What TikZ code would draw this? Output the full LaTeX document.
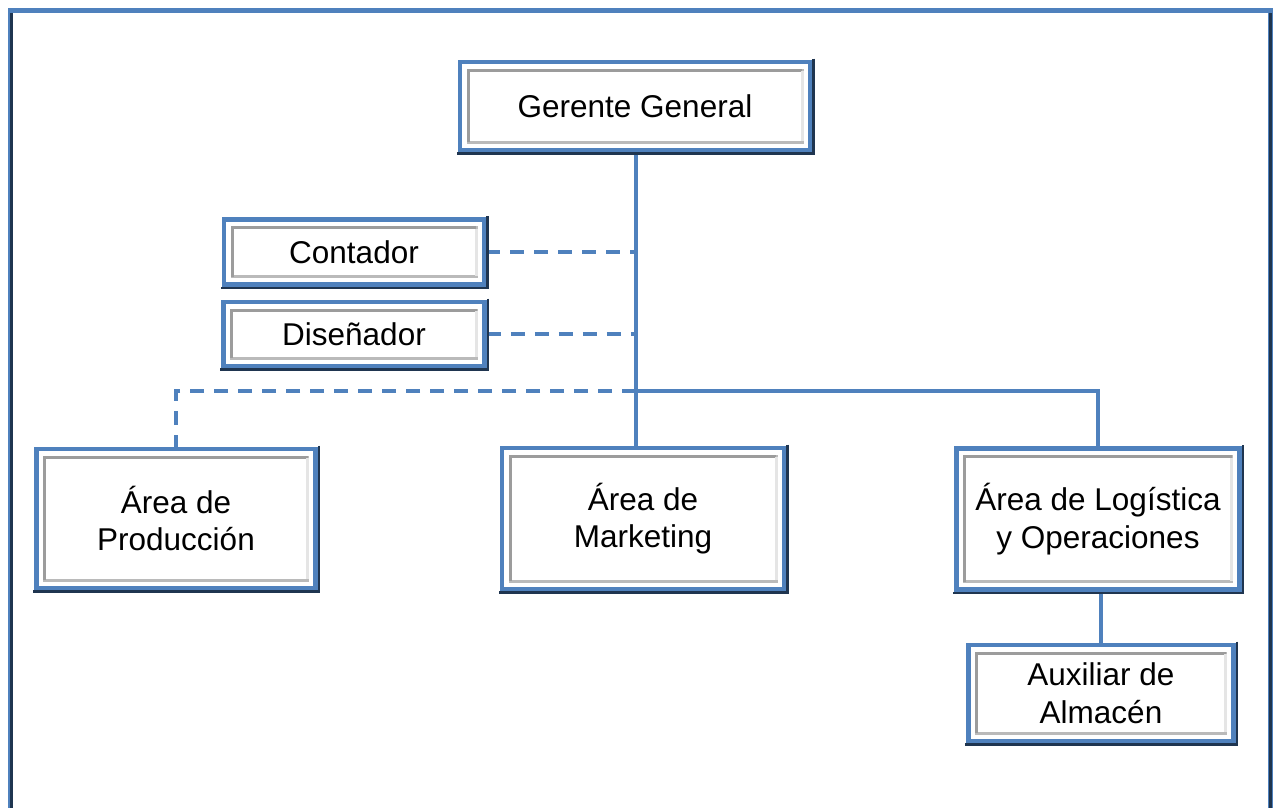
\documentclass[tikz,border=0pt]{standalone}
\usepackage{fontspec}
\setmainfont{Liberation Sans}
\usetikzlibrary{calc}
\definecolor{boxblue}{HTML}{4F81BD}
\definecolor{navy}{HTML}{1F3550}
\definecolor{bevel}{HTML}{9C9C9C}
\tikzset{
  obox/.style={rectangle, fill=white, draw=boxblue, line width=4.5pt,
    align=center, inner sep=0pt, font=\fontsize{31.5}{37.5}\selectfont,
    path picture={
      \draw[bevel!70, line width=3pt]
        ([shift={(8pt,-8pt)}]path picture bounding box.north west) rectangle
        ([shift={(-8pt,8pt)}]path picture bounding box.south east);
      \draw[bevel, line width=3pt]
        ([shift={(8pt,8pt)}]path picture bounding box.south west) --
        ([shift={(8pt,-8pt)}]path picture bounding box.north west) --
        ([shift={(-8pt,-8pt)}]path picture bounding box.north east);
      \draw[gray!20, line width=3pt]
        ([shift={(-8pt,-9pt)}]path picture bounding box.north east) --
        ([shift={(-8pt,9pt)}]path picture bounding box.south east);
    }},
  link/.style={draw=boxblue, line width=4pt},
  dlink/.style={draw=boxblue, line width=4pt, dash pattern=on 14pt off 10pt},
}
\newcommand\darkedge[1]{%
  \draw[navy, line width=2.5pt] ([shift={(1.2pt,1.2pt)}]#1.north east) -- ([shift={(1.2pt,-1.2pt)}]#1.south east) -- ([shift={(-1.2pt,-1.2pt)}]#1.south west);}
\begin{document}
\begin{tikzpicture}[x=1pt,y=-1pt]
\useasboundingbox (0,0) rectangle (1278,807);
\begin{scope}
\clip (0,0) rectangle (1278,807);
\fill[white] (0,0) rectangle (1278,807);
\draw[boxblue, line width=5pt] (10.5,830) -- (10.5,10.5) -- (1270,10.5) -- (1270,830);
\draw[navy, line width=2.5pt] (11.5,13) -- (11.5,830);
\draw[navy, line width=2.5pt] (1270.5,13) -- (1270.5,830);
\end{scope}

\node[obox, minimum width=350pt, minimum height=88pt] (gg) at (635,106) {Gerente General};
\node[obox, minimum width=260pt, minimum height=65pt] (cont) at (354,252) {Contador};
\node[obox, minimum width=261pt, minimum height=64pt] (dis) at (354,334) {Diseñador};
\node[obox, minimum width=279pt, minimum height=139pt] (prod) at (176,518.5) {Área de\\Producción};
\node[obox, minimum width=282pt, minimum height=141pt] (mkt) at (643,518.5) {Área de\\Marketing};
\node[obox, minimum width=283pt, minimum height=141pt] (log) at (1098,519) {Área de Logística\\y Operaciones};
\node[obox, minimum width=265pt, minimum height=96pt] (aux) at (1101,693) {Auxiliar de\\Almacén};

\coordinate (j) at (636,391);
\coordinate (ggb) at (636,152);
\coordinate (mkt top) at (636,446);

\draw[link] (ggb) -- (mkt top);
\draw[link] (j) -| (log.north);
\draw[dlink] (j) -| (prod.north);
\draw[dlink] (cont.east) -- (cont.east -| j);
\draw[dlink] (dis.east) -- (dis.east -| j);
\draw[link] (log.south -| aux.north) -- (aux.north);

\foreach \n in {gg,cont,dis,prod,mkt,log,aux} {\darkedge{\n}}
\end{tikzpicture}
\end{document}
